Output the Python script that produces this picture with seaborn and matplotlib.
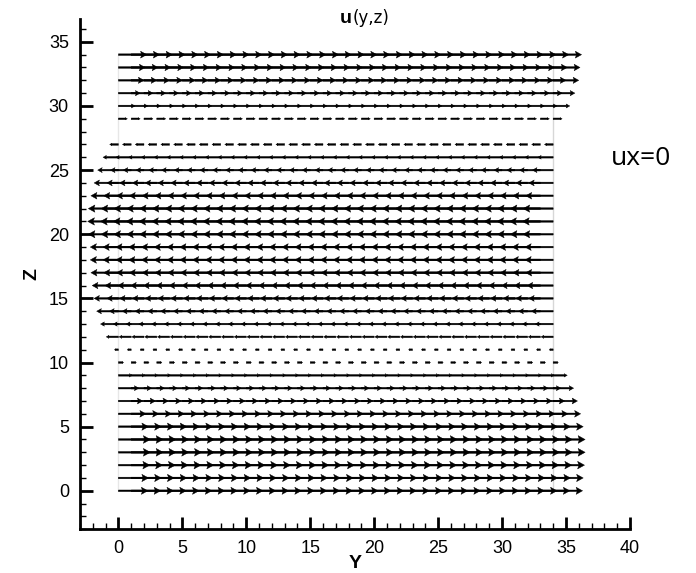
import numpy as np
import pandas as pd
import matplotlib
matplotlib.use("Agg")
import matplotlib.pyplot as plt
import seaborn as sns

# Grid of vector origins (Y positions) and rows (Z levels)
y_points = list(range(35))
z_levels = list(range(35))

# Horizontal velocity of each row
u_values = [2.3, 2.35, 2.45, 2.5, 2.5, 2.35, 2.15, 1.9, 1.6, 1.1,
            0.4, -0.3, -0.95, -1.4, -1.7, -1.9, -2.05, -2.15, -2.2, -2.2,
            -2.35, -2.4, -2.35, -2.15, -1.9, -1.62, -1.2, -0.68, 0.0, 0.7,
            1.3, 1.7, 2.0, 2.1, 2.22]

# Domain boundaries drawn as thin vertical lines
wall_y = [0, 34]
wall_z = [0, 34]

x_ticks = [0, 5, 10, 15, 20, 25, 30, 35, 40]
z_ticks = [0, 5, 10, 15, 20, 25, 30, 35]

sns.set_style("ticks")
plt.rcParams["font.family"] = ["Liberation Sans", "DejaVu Sans"]
plt.rcParams["text.color"] = "black"
plt.rcParams["axes.labelcolor"] = "black"
plt.rcParams["xtick.color"] = "black"
plt.rcParams["ytick.color"] = "black"
plt.rcParams["axes.edgecolor"] = "black"

# Build the vector table
Y, Z = np.meshgrid(y_points, z_levels)
U = np.repeat(np.array(u_values)[:, None], len(y_points), axis=1)
df = pd.DataFrame({"y": Y.ravel(), "z": Z.ravel(), "u": U.ravel()})
df = df[df["u"] != 0]

fig = plt.figure(figsize=(6.96, 5.73), dpi=100)
ax = fig.add_axes([0.115, 0.0763, 0.790, 0.891])

ax.set_xlim(-3, 40)
ax.set_ylim(-3, 36.8)

# boundary lines
walls = pd.DataFrame({"y": [wall_y[0]] * 2 + [wall_y[1]] * 2,
                      "z": wall_z * 2,
                      "wall": ["left", "left", "right", "right"]})
sns.lineplot(data=walls[walls["wall"] == "left"], x="y", y="z",
             color="#8a8a8a", linewidth=1.5, ax=ax, sort=False)
sns.lineplot(data=walls[walls["wall"] == "right"], x="y", y="z",
             color="#3a3a3a", linewidth=1.1, ax=ax, sort=False)

# pixels per data unit along Y, so arrowheads scale with vector length
px_per_unit = 0.790 * 696 / 43
shaft = 1.6
for z, row in df.groupby("z"):
    length_px = abs(row["u"].iloc[0]) * px_per_unit
    head_len = 0.22 * length_px / shaft
    head_w = max(1.1 * head_len, 1.0)
    ax.quiver(row["y"], row["z"], row["u"], np.zeros(len(row)),
              angles="xy", scale_units="xy", scale=1,
              units="dots", width=shaft, headwidth=head_w,
              headlength=head_len, headaxislength=0.85 * head_len,
              minshaft=0.1, minlength=0.1, color="black",
              edgecolor="black", linewidth=0.3, zorder=3)

ax.set_xticks(x_ticks)
ax.set_yticks(z_ticks)
ax.set_xticks(np.arange(-3, 41, 1), minor=True)
ax.set_yticks(np.arange(-3, 37, 1), minor=True)
ax.tick_params(which="major", direction="in", length=9, width=2,
               labelsize=13, pad=8)
ax.tick_params(which="minor", direction="in", length=4.5, width=1)

for side in ["top", "right"]:
    ax.spines[side].set_visible(False)
for side in ["left", "bottom"]:
    ax.spines[side].set_linewidth(2)

ax.set_xlabel("Y", fontsize=14, fontweight="bold", labelpad=-2)
ax.set_ylabel("Z", fontsize=14, fontweight="bold", labelpad=6)

fig.text(0.506, 0.968, "u", ha="right", va="center", fontsize=14,
         fontweight="bold")
fig.text(0.507, 0.968, "(y,z)", ha="left", va="center", fontsize=12,
         family="DejaVu Sans")
fig.text(0.877, 0.724, "ux=0", ha="left", va="center", fontsize=19,
         family="Open Sans")

fig.savefig("out.png", dpi=100)
